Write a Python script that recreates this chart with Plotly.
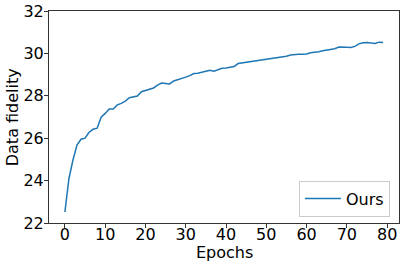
import plotly.graph_objects as go

epochs = list(range(80))
fidelity = [
    22.52, 24.10, 24.97, 25.68, 25.95, 26.00, 26.28, 26.42, 26.47, 26.99,
    27.17, 27.38, 27.38, 27.57, 27.64, 27.75, 27.91, 27.96, 27.99, 28.19,
    28.26, 28.31, 28.37, 28.50, 28.60, 28.58, 28.56, 28.70, 28.75, 28.82,
    28.88, 28.95, 29.05, 29.06, 29.10, 29.13, 29.20, 29.16, 29.22, 29.30,
    29.31, 29.34, 29.38, 29.52, 29.55, 29.57, 29.60, 29.62, 29.64, 29.68,
    29.70, 29.76, 29.78, 29.80, 29.83, 29.87, 29.92, 29.95, 29.96, 29.96,
    29.97, 30.03, 30.04, 30.08, 30.12, 30.15, 30.18, 30.22, 30.30, 30.31,
    30.29, 30.28, 30.33, 30.45, 30.50, 30.51, 30.49, 30.47, 30.53, 30.51,
]
x_ticks = [0, 10, 20, 30, 40, 50, 60, 70, 80]
y_ticks = [22, 24, 26, 28, 30, 32]
series_name = "Ours"
x_title = "Epochs"
y_title = "Data fidelity"

fig = go.Figure()
fig.add_trace(go.Scatter(x=epochs, y=fidelity, mode="lines", name=series_name,
                         line=dict(color="#1f77b4", width=1.5), showlegend=True))

font = dict(family="DejaVu Sans", size=16, color="black")
axis_common = dict(showline=True, linecolor="#333", linewidth=1, mirror=True,
                   ticks="outside", ticklen=4, tickcolor="#333", tickwidth=1,
                   showgrid=False, zeroline=False, tickfont=font, automargin=False)

fig.update_layout(
    width=407, height=268,
    margin=dict(l=49, r=8, t=11, b=45),
    paper_bgcolor="white", plot_bgcolor="white",
    font=font,
    xaxis=dict(range=[-3.95, 82.95], tickvals=x_ticks, ticklabelstandoff=-7, **axis_common),
    yaxis=dict(range=[22, 32], tickvals=y_ticks, ticklabelstandoff=-3, **axis_common),
    legend=dict(x=0.974, y=0.03, xanchor="right", yanchor="bottom",
                bordercolor="#ccc", borderwidth=1, bgcolor="white", font=font,
                itemwidth=36),
    annotations=[
        dict(text=x_title, xref="paper", yref="paper", x=0.5, y=-0.14,
             xanchor="center", yanchor="middle", showarrow=False, font=font),
        dict(text=y_title, xref="paper", yref="paper", x=-0.105, y=0.5,
             xanchor="center", yanchor="middle", showarrow=False, font=font,
             textangle=-90),
    ],
)

fig.write_html("out.html", post_script="document.body.style.margin='0';",
               config={"displayModeBar": False})
